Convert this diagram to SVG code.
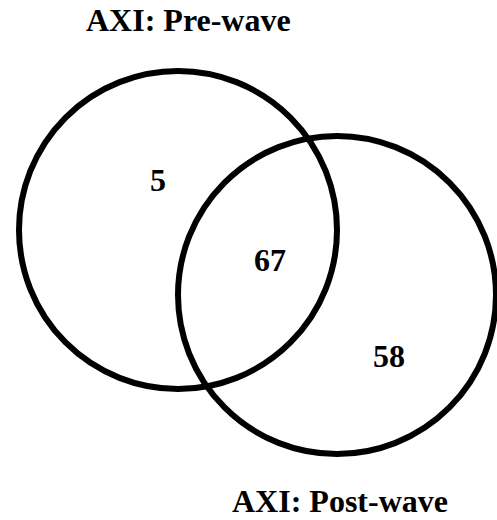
<svg xmlns="http://www.w3.org/2000/svg" width="497" height="520" viewBox="0 0 497 520">
<style>
.ring{fill:none;stroke:#000;stroke-width:6}
.t{font-family:"Liberation Serif","Times New Roman",serif;font-weight:bold;fill:#000}
.lbl{font-size:32px}
.num{font-size:32px;text-anchor:middle}
</style>
<rect width="497" height="520" fill="#fff"/>
<g id="set-pre">
<circle class="ring" cx="178" cy="230" r="159"/>
<text class="t lbl" x="86" y="31">AXI: Pre-wave</text>
</g>
<g id="set-post">
<circle class="ring" cx="337" cy="295" r="159"/>
<text class="t lbl" x="232" y="512">AXI: Post-wave</text>
</g>
<g id="region-pre-only"><text class="t num" x="158" y="191">5</text></g>
<g id="region-both"><text class="t num" x="270" y="271">67</text></g>
<g id="region-post-only"><text class="t num" x="389" y="367">58</text></g>
<g id="connectors"></g>
</svg>
